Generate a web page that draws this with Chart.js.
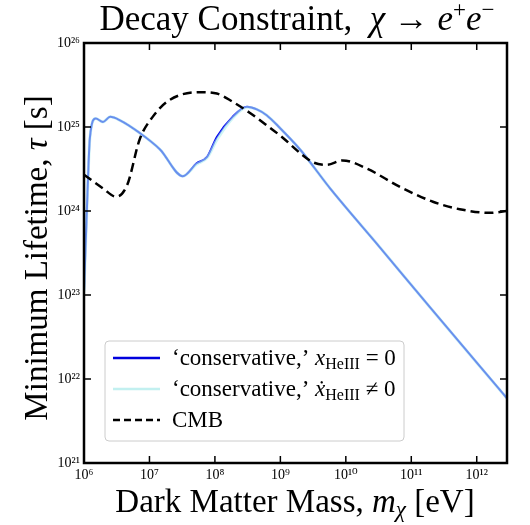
<!DOCTYPE html>
<html lang="en">
<head>
  <meta charset="UTF-8">
  <title>Decay Constraint</title>
  <script src="https://cdn.jsdelivr.net/npm/chart.js"></script>
  <style>
    body { margin: 0; background: #fff; }
    #wrap { width: 530px; height: 525px; }
  </style>
</head>
<body>
  <div id="wrap"><canvas id="decayChart" width="530" height="525"></canvas></div>

  <script>
    // Dark matter mass [eV] for the two 'conservative' curves
    const massBlue = [1.0e6, 1.12e6, 1.23e6, 1.51e6, 1.95e6, 2.51e6, 3.55e6, 7.08e6, 1.45e7, 3.24e7,
      5.25e7, 7.59e7, 1.07e8, 1.86e8, 3.09e8, 4.37e8, 6.17e8, 9.77e8, 2.0e9, 5.75e9,
      3.31e10, 1.91e11, 1.12e12, 2.9e12];
    // Minimum lifetime [s], x_HeIII = 0
    const tauHeZero = [1.1e23, 1.35e24, 7.4e24, 1.26e25, 1.15e25, 1.32e25, 1.2e25, 8.5e24, 5.4e24, 2.6e24,
      3.7e24, 4.4e24, 7.6e24, 1.32e25, 1.74e25, 1.62e25, 1.38e25, 9.8e24, 5.4e24, 1.86e24,
      3.7e23, 7.2e22, 1.41e22, 5.9e21];
    // Minimum lifetime [s], dx_HeIII != 0
    const tauHeDot = [1.1e23, 1.35e24, 7.4e24, 1.26e25, 1.15e25, 1.32e25, 1.2e25, 8.5e24, 5.4e24, 2.6e24,
      3.6e24, 4.3e24, 7.0e24, 1.27e25, 1.72e25, 1.62e25, 1.38e25, 9.8e24, 5.4e24, 1.86e24,
      3.7e23, 7.2e22, 1.41e22, 5.9e21];

    // CMB constraint
    const massCMB = [1e6, 1.95e6, 3.09e6, 4.57e6, 7.08e6, 1.12e7, 2.04e7, 5.89e7, 1.07e8, 1.86e8,
      3.39e8, 6.17e8, 1.1e9, 2.0e9, 3.16e9, 5.13e9, 8.91e9, 2.09e10, 6.61e10, 2.14e11,
      5.5e11, 1.58e12, 2.9e12];
    const tauCMB = [2.7e24, 1.86e24, 1.48e24, 2.04e24, 7.1e24, 1.32e25, 2.1e25, 2.6e25, 2.5e25, 2.0e25,
      1.48e25, 1.05e25, 7.4e24, 4.9e24, 3.8e24, 3.55e24, 4.0e24, 3.2e24, 1.95e24, 1.29e24,
      1.05e24, 9.5e23, 1.0e24];

    const xTicks = [1e6, 1e7, 1e8, 1e9, 1e10, 1e11, 1e12];
    const yTicks = [1e21, 1e22, 1e23, 1e24, 1e25, 1e26];

    const SERIF = "'Liberation Serif', 'DejaVu Serif', serif";
    const SUP = { '0': '⁰', '1': '¹', '2': '²', '3': '³', '4': '⁴', '5': '⁵', '6': '⁶', '7': '⁷', '8': '⁸', '9': '⁹' };

    function powLabel(v) {
      const e = Math.round(Math.log10(v));
      return '10' + String(e).split('').map(d => SUP[d]).join('');
    }

    function toPoints(xs, ys) {
      return xs.map((x, i) => ({ x, y: ys[i] }));
    }

    // draw a line of text made of pieces with their own font / vertical shift
    function drawRich(ctx, parts, x, y, align) {
      let total = 0;
      parts.forEach(p => { ctx.font = p.font; total += ctx.measureText(p.t).width; });
      let cx = align === 'center' ? x - total / 2 : x;
      ctx.textAlign = 'left';
      ctx.textBaseline = 'alphabetic';
      parts.forEach(p => {
        ctx.font = p.font;
        ctx.fillText(p.t, cx, y + (p.dy || 0));
        cx += ctx.measureText(p.t).width;
      });
    }

    // frame, inward ticks, titles and legend
    const decorPlugin = {
      id: 'decor',
      afterDraw(chart) {
        const { ctx, chartArea: a, scales } = chart;
        ctx.save();
        ctx.strokeStyle = '#000';
        ctx.lineWidth = 1.5;
        const tl = 7;
        xTicks.forEach(v => {
          const px = scales.x.getPixelForValue(v);
          ctx.beginPath();
          ctx.moveTo(px, a.bottom); ctx.lineTo(px, a.bottom - tl);
          ctx.moveTo(px, a.top); ctx.lineTo(px, a.top + tl);
          ctx.stroke();
        });
        yTicks.forEach(v => {
          const py = scales.y.getPixelForValue(v);
          ctx.beginPath();
          ctx.moveTo(a.left, py); ctx.lineTo(a.left + tl, py);
          ctx.moveTo(a.right, py); ctx.lineTo(a.right - tl, py);
          ctx.stroke();
        });
        ctx.lineWidth = 2.5;
        ctx.strokeRect(a.left, a.top, a.right - a.left, a.bottom - a.top);

        ctx.fillStyle = '#000';
        // title
        drawRich(ctx, [
          { t: 'Decay Constraint,  ', font: '35px ' + SERIF },
          { t: 'χ', font: 'italic 35px ' + SERIF },
          { t: ' → ', font: '35px ' + SERIF },
          { t: 'e', font: 'italic 35px ' + SERIF },
          { t: '+', font: '23px ' + SERIF, dy: -13 },
          { t: 'e', font: 'italic 35px ' + SERIF },
          { t: '−', font: '23px ' + SERIF, dy: -13 }
        ], 297, 30, 'center');

        // x axis title
        drawRich(ctx, [
          { t: 'Dark Matter Mass, ', font: '33px ' + SERIF },
          { t: 'm', font: 'italic 33px ' + SERIF },
          { t: 'χ', font: 'italic 23px ' + SERIF, dy: 5 },
          { t: ' [eV]', font: '33px ' + SERIF }
        ], 295, 512, 'center');

        // y axis title
        ctx.save();
        ctx.translate(47, 258);
        ctx.rotate(-Math.PI / 2);
        drawRich(ctx, [
          { t: 'Minimum Lifetime, ', font: '33px ' + SERIF },
          { t: 'τ', font: 'italic 33px ' + SERIF },
          { t: ' [s]', font: '33px ' + SERIF }
        ], 0, 0, 'center');
        ctx.restore();

        // legend
        const bx = 105, by = 341, bw = 299, bh = 100;
        ctx.beginPath();
        ctx.roundRect(bx, by, bw, bh, 4);
        ctx.fillStyle = 'rgba(255,255,255,0.85)';
        ctx.fill();
        ctx.strokeStyle = '#cccccc';
        ctx.lineWidth = 1;
        ctx.stroke();

        const rows = [
          { color: '#0000dd', dash: [], parts: [
            { t: '‘conservative,’ ', font: '23px ' + SERIF },
            { t: 'x', font: 'italic 23px ' + SERIF },
            { t: 'HeIII', font: '16px ' + SERIF, dy: 4 },
            { t: ' = 0', font: '23px ' + SERIF }
          ] },
          { color: '#c2f0f0', dash: [], parts: [
            { t: '‘conservative,’ ', font: '23px ' + SERIF },
            { t: 'ẋ', font: 'italic 23px ' + SERIF },
            { t: 'HeIII', font: '16px ' + SERIF, dy: 4 },
            { t: ' ≠ 0', font: '23px ' + SERIF }
          ] },
          { color: '#000', dash: [7, 4], parts: [
            { t: 'CMB', font: '23px ' + SERIF }
          ] }
        ];
        rows.forEach((r, i) => {
          const ly = 358 + i * 31;
          ctx.beginPath();
          ctx.setLineDash(r.dash);
          ctx.strokeStyle = r.color;
          ctx.lineWidth = 2.5;
          ctx.moveTo(113, ly); ctx.lineTo(160, ly);
          ctx.stroke();
          ctx.setLineDash([]);
          ctx.fillStyle = '#000';
          drawRich(ctx, r.parts, 172, ly + 7, 'left');
        });
        ctx.restore();
      }
    };

    const ctx = document.getElementById('decayChart').getContext('2d');
    new Chart(ctx, {
      type: 'line',
      data: {
        datasets: [
          {
            label: 'conservative, x_HeIII = 0',
            data: toPoints(massBlue, tauHeZero),
            borderColor: '#0000ee',
            borderWidth: 2,
            pointRadius: 0,
            order: 3,
            cubicInterpolationMode: 'monotone'
          },
          {
            label: 'conservative, dx_HeIII != 0',
            data: toPoints(massBlue, tauHeDot),
            borderColor: 'rgba(175,238,238,0.6)',
            borderWidth: 3,
            pointRadius: 0,
            order: 2,
            cubicInterpolationMode: 'monotone'
          },
          {
            label: 'CMB',
            data: toPoints(massCMB, tauCMB),
            borderColor: '#000',
            borderWidth: 2.5,
            borderDash: [9, 5],
            pointRadius: 0,
            order: 1,
            cubicInterpolationMode: 'monotone'
          }
        ]
      },
      options: {
        responsive: false,
        animation: false,
        layout: { padding: { top: 43, right: 23, bottom: 0, left: 0 } },
        plugins: {
          legend: { display: false },
          title: { display: false },
          tooltip: { enabled: false }
        },
        scales: {
          x: {
            type: 'logarithmic',
            min: 1e6,
            max: 2.9e12,
            grid: { display: false, drawTicks: false },
            border: { display: false },
            afterBuildTicks: s => { s.ticks = xTicks.map(v => ({ value: v })); },
            afterFit: s => { s.height = 62; },
            ticks: {
              autoSkip: false,
              maxRotation: 0,
              padding: 4,
              color: '#000',
              font: { family: SERIF, size: 14 },
              callback: v => powLabel(v)
            }
          },
          y: {
            type: 'logarithmic',
            min: 1e21,
            max: 1e26,
            grid: { display: false, drawTicks: false },
            border: { display: false },
            afterBuildTicks: s => { s.ticks = yTicks.map(v => ({ value: v })); },
            afterFit: s => { s.width = 84; },
            ticks: {
              autoSkip: false,
              padding: 4,
              color: '#000',
              font: { family: SERIF, size: 14 },
              callback: v => powLabel(v)
            }
          }
        }
      },
      plugins: [decorPlugin]
    });
  </script>
</body>
</html>
